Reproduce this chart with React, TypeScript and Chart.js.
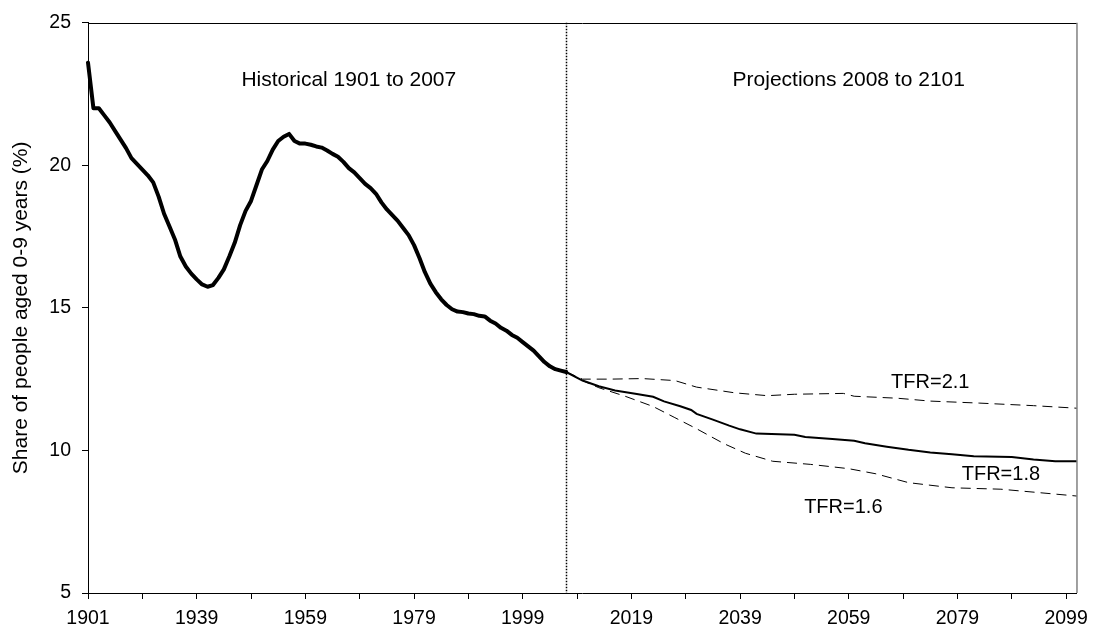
import React, { useEffect, useRef } from "react";
import { Chart, registerables } from "chart.js";

Chart.register(...registerables);

const FONT = "'Liberation Sans', Arial, Helvetica, sans-serif";

// Categories: census years 1901 and 1911, then annual from 1921 to 2101
const years: number[] = [1901, 1911];
for (let yr = 1921; yr <= 2101; yr++) years.push(yr);
const categories: string[] = years.map(String);

// Historical share of people aged 0-9 (%), 1901, 1911, 1921..2007
const historical: number[] = [
  23.6, 22.0, 22.0, 21.75, 21.5, 21.2, 20.9, 20.6, 20.25, 20.05,
  19.85, 19.65, 19.4, 18.9, 18.3, 17.85, 17.4, 16.8, 16.45, 16.2,
  16.0, 15.82, 15.74, 15.8, 16.05, 16.35, 16.8, 17.28, 17.9, 18.4,
  18.75, 19.3, 19.85, 20.15, 20.55, 20.85, 21.0, 21.1, 20.85, 20.76,
  20.76, 20.72, 20.66, 20.62, 20.52, 20.4, 20.3, 20.12, 19.9, 19.75,
  19.55, 19.35, 19.2, 19.0, 18.7, 18.45, 18.25, 18.05, 17.8, 17.55,
  17.2, 16.75, 16.25, 15.85, 15.55, 15.3, 15.1, 14.95, 14.87, 14.85,
  14.8, 14.78, 14.72, 14.7, 14.55, 14.45, 14.3, 14.2, 14.05, 13.95,
  13.8, 13.65, 13.5, 13.3, 13.1, 12.95, 12.85, 12.8, 12.75,
];

// Projections (year, value)
const tfr21Years: number[] = [2007, 2010, 2015, 2021, 2027, 2031, 2038, 2044, 2049, 2058, 2060, 2068, 2074, 2083, 2093, 2101];
const tfr21Values: number[] = [12.75, 12.5, 12.5, 12.52, 12.45, 12.22, 12.02, 11.92, 11.97, 12.0, 11.9, 11.83, 11.73, 11.66, 11.57, 11.48];

const tfr18Years: number[] = [2007, 2010, 2013, 2016, 2020, 2023, 2025, 2028, 2030, 2031, 2034, 2037, 2039, 2042, 2049, 2051, 2056, 2060, 2062, 2066, 2070, 2074, 2078, 2082, 2089, 2093, 2097, 2101];
const tfr18Values: number[] = [12.75, 12.45, 12.25, 12.1, 11.98, 11.88, 11.72, 11.55, 11.42, 11.28, 11.08, 10.87, 10.74, 10.59, 10.55, 10.47, 10.4, 10.34, 10.25, 10.13, 10.02, 9.93, 9.87, 9.8, 9.77, 9.68, 9.62, 9.62];

const tfr16Years: number[] = [2007, 2010, 2013, 2018, 2023, 2027, 2031, 2036, 2040, 2045, 2052, 2059, 2064, 2070, 2078, 2087, 2094, 2101];
const tfr16Values: number[] = [12.75, 12.45, 12.2, 11.89, 11.54, 11.15, 10.76, 10.24, 9.9, 9.62, 9.51, 9.36, 9.18, 8.87, 8.69, 8.64, 8.52, 8.4];

const dividerYear = 2007;

// Text annotations
const noteTexts: string[] = ["Historical 1901 to 2007", "Projections 2008 to 2101", "TFR=2.1", "TFR=1.8", "TFR=1.6"];
const noteYears: number[] = [1967, 2059, 2074, 2087, 2058];
const noteValues: number[] = [23, 23, 12.37, 9.16, 8.0];
const noteSizes: number[] = [21, 21, 20, 20, 20];

const yTicks: number[] = [5, 10, 15, 20, 25];

function sparse(ys: number[], vs: number[]): (number | null)[] {
  const arr: (number | null)[] = categories.map(() => null);
  ys.forEach((yr, i) => {
    arr[years.indexOf(yr)] = vs[i];
  });
  return arr;
}

const overlayPlugin = {
  id: "overlay",
  afterDatasetsDraw(chart: any) {
    const { ctx, chartArea: a, scales } = chart;
    const x = scales.x;
    const y = scales.y;
    ctx.save();
    // dotted divider
    const xd = Math.round(x.getPixelForValue(years.indexOf(dividerYear))) + 0.5;
    ctx.strokeStyle = "#000";
    ctx.lineWidth = 1.5;
    ctx.setLineDash([1.5, 1.5]);
    ctx.beginPath();
    ctx.moveTo(xd, a.top);
    ctx.lineTo(xd, a.bottom);
    ctx.stroke();
    ctx.setLineDash([]);
    // top border
    ctx.lineWidth = 1;
    ctx.strokeStyle = "#000";
    ctx.beginPath();
    ctx.moveTo(a.left, Math.round(a.top) + 0.5);
    ctx.lineTo(a.right, Math.round(a.top) + 0.5);
    ctx.stroke();
    // right border
    ctx.strokeStyle = "#808080";
    ctx.lineWidth = 1.5;
    ctx.beginPath();
    ctx.moveTo(a.right, a.top);
    ctx.lineTo(a.right, a.bottom);
    ctx.stroke();
    // annotations
    ctx.fillStyle = "#000";
    ctx.textAlign = "center";
    ctx.textBaseline = "middle";
    noteTexts.forEach((t, i) => {
      ctx.font = `${noteSizes[i]}px ${FONT}`;
      ctx.fillText(t, x.getPixelForValue(years.indexOf(noteYears[i])), y.getPixelForValue(noteValues[i]));
    });
    ctx.restore();
  },
};

export default function App() {
  const ref = useRef<HTMLCanvasElement | null>(null);
  useEffect(() => {
    if (!ref.current) return;
    const histData: (number | null)[] = categories.map((_, i) => (i < historical.length ? historical[i] : null));
    const chart = new Chart(ref.current, {
      type: "line",
      data: {
        labels: categories,
        datasets: [
          {
            label: "Historical",
            data: histData,
            borderColor: "#000",
            borderWidth: 4,
            pointRadius: 0,
            borderJoinStyle: "round",
            borderCapStyle: "round",
            tension: 0,
          },
          {
            label: "TFR=1.8",
            data: sparse(tfr18Years, tfr18Values),
            borderColor: "#000",
            borderWidth: 2,
            pointRadius: 0,
            spanGaps: true,
            tension: 0,
          },
          {
            label: "TFR=2.1",
            data: sparse(tfr21Years, tfr21Values),
            borderColor: "#000",
            borderWidth: 1,
            borderDash: [10, 6],
            pointRadius: 0,
            spanGaps: true,
            tension: 0,
          },
          {
            label: "TFR=1.6",
            data: sparse(tfr16Years, tfr16Values),
            borderColor: "#000",
            borderWidth: 1,
            borderDash: [10, 6],
            pointRadius: 0,
            spanGaps: true,
            tension: 0,
          },
        ],
      },
      options: {
        responsive: false,
        animation: false,
        layout: { padding: { top: 18, right: 18, left: 0, bottom: 0 } },
        plugins: {
          legend: { display: false },
          tooltip: { enabled: false },
        },
        scales: {
          x: {
            type: "category",
            offset: false,
            afterBuildTicks: (scale: any) => {
              scale.ticks = scale.ticks.filter((t: any) => t.value % 10 === 0);
            },
            afterFit: (scale: any) => {
              scale.height = 41;
            },
            grid: {
              display: true,
              drawOnChartArea: false,
              drawTicks: true,
              tickLength: 6,
              color: "#000",
              lineWidth: 1,
            },
            border: { display: true, color: "#000", width: 1 },
            ticks: {
              autoSkip: false,
              maxRotation: 0,
              minRotation: 0,
              padding: 8,
              color: "#000",
              font: { family: FONT, size: 19.5 },
              callback: function (this: any, value: any) {
                const v = Number(value);
                return v % 20 === 0 ? categories[v] : "";
              },
            },
          },
          y: {
            min: 5,
            max: 25,
            afterBuildTicks: (scale: any) => {
              scale.ticks = yTicks.map((v) => ({ value: v }));
            },
            afterFit: (scale: any) => {
              scale.width = 88;
            },
            grid: {
              display: true,
              drawOnChartArea: false,
              drawTicks: true,
              tickLength: 6,
              color: "#000",
              lineWidth: 1,
            },
            border: { display: true, color: "#000", width: 1 },
            ticks: {
              padding: 11,
              color: "#000",
              font: { family: FONT, size: 19.5 },
            },
            title: {
              display: true,
              text: "Share of people aged 0-9 years (%)",
              color: "#000",
              font: { family: FONT, size: 21 },
              padding: { top: 9, bottom: 0 },
            },
          },
        },
      },
      plugins: [overlayPlugin],
    });
    return () => chart.destroy();
  }, []);

  return (
    <div style={{ position: "fixed", left: 0, top: 0, width: 1096, height: 634, background: "#fff" }}>
      <canvas ref={ref} width={1096} height={634} style={{ display: "block" }} />
    </div>
  );
}
